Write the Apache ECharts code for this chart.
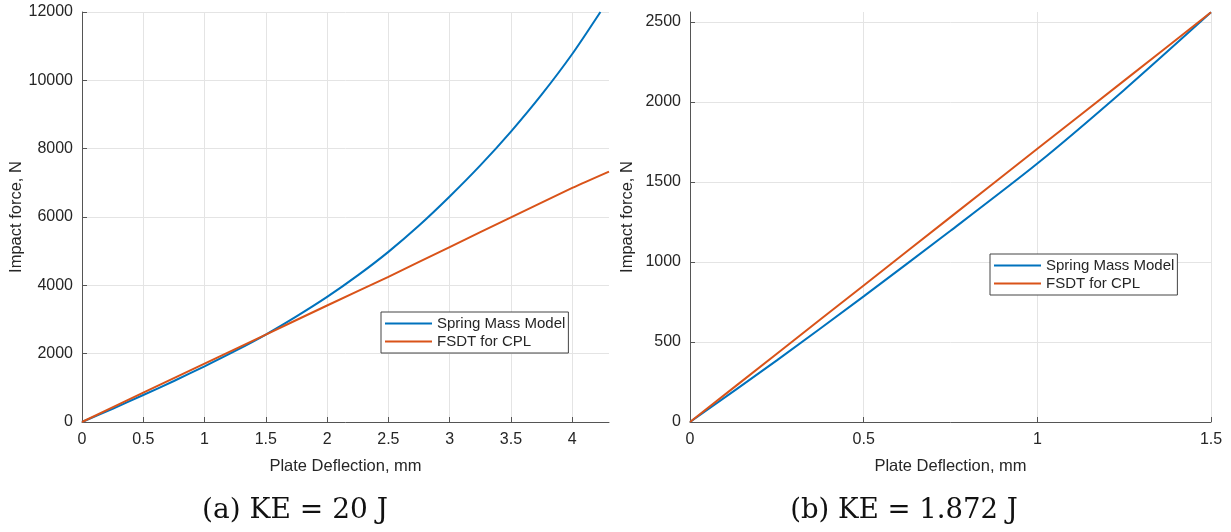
<!DOCTYPE html>
<html><head><meta charset="utf-8">
<script src="https://cdn.jsdelivr.net/npm/echarts@6/dist/echarts.min.js"></script>
<style>html,body{margin:0;padding:0;background:#fff}#c{width:1231px;height:532px}</style>
</head><body><div id="c"></div>
<script>
const seriesNames = ['Spring Mass Model', 'FSDT for CPL'];
const captions = ['(a) KE = 20 J', '(b) KE = 1.872 J'];
const xAxisName = 'Plate Deflection, mm';
const yAxisName = 'Impact force, N';

// Panel (a): KE = 20 J
const springX_a = [0, 0.25, 0.5, 0.75, 1, 1.25, 1.5, 1.75, 2, 2.25, 2.5, 2.75, 3, 3.25, 3.5, 3.75, 4, 4.23];
const springY_a = [0, 385, 790, 1200, 1630, 2080, 2560, 3090, 3660, 4290, 4980, 5750, 6600, 7510, 8500, 9580, 10770, 12000];
const fsdtX_a = [0, 0.5, 1, 1.5, 2, 2.5, 3, 3.5, 4, 4.3];
const fsdtY_a = [0, 860, 1710, 2560, 3410, 4250, 5120, 5990, 6850, 7330];
const xTicks_a = [0, 0.5, 1, 1.5, 2, 2.5, 3, 3.5, 4];
const yTicks_a = [0, 2000, 4000, 6000, 8000, 10000, 12000];

// Panel (b): KE = 1.872 J
const springX_b = [0, 0.25, 0.5, 0.75, 1, 1.25, 1.5];
const springY_b = [0, 385, 785, 1195, 1615, 2075, 2560];
const fsdtX_b = [0, 0.25, 0.5, 0.75, 1, 1.25, 1.5];
const fsdtY_b = [0, 427, 853, 1280, 1707, 2133, 2560];
const xTicks_b = [0, 0.5, 1, 1.5];
const yTicks_b = [0, 500, 1000, 1500, 2000, 2500];

const pairs = (xs, ys) => xs.map((x, i) => [x, ys[i]]);
const BLUE = '#0072BD', ORANGE = '#D95319';
const FONT = 'Liberation Sans, Arial, sans-serif';
const TXT = '#262626';

function xAxis(gi, max, interval, ticks, nameGap) {
  return {
    type: 'value', gridIndex: gi, min: 0, max: max, interval: interval,
    name: xAxisName, nameLocation: 'middle', nameGap: nameGap,
    nameTextStyle: { fontFamily: FONT, fontSize: 16.5, color: TXT },
    axisLine: { show: true, onZero: false, lineStyle: { color: '#555', width: 1 } },
    axisTick: { show: true, inside: true, length: 5, customValues: ticks, lineStyle: { color: '#555' } },
    axisLabel: { customValues: ticks, fontFamily: FONT, fontSize: 16, color: TXT, margin: 10, formatter: v => String(v) },
    splitLine: { show: true, lineStyle: { color: '#e4e4e4', width: 1 } }
  };
}
function yAxis(gi, max, interval, ticks, nameGap) {
  return {
    type: 'value', gridIndex: gi, min: 0, max: max, interval: interval,
    name: yAxisName, nameLocation: 'middle', nameGap: nameGap, nameRotate: 90,
    nameTextStyle: { fontFamily: FONT, fontSize: 16.5, color: TXT },
    axisLine: { show: true, onZero: false, lineStyle: { color: '#555', width: 1 } },
    axisTick: { show: true, inside: true, length: 5, customValues: ticks, lineStyle: { color: '#555' } },
    axisLabel: { customValues: ticks, fontFamily: FONT, fontSize: 16, color: TXT, margin: 9, formatter: v => String(v) },
    splitLine: { show: true, lineStyle: { color: '#e4e4e4', width: 1 } }
  };
}
function line(name, data, color, xi) {
  return {
    type: 'line', name: name, xAxisIndex: xi, yAxisIndex: xi, data: data,
    symbol: 'none', smooth: 0.25, animation: false,
    lineStyle: { color: color, width: 2 }, itemStyle: { color: color }
  };
}
function legend(left, top) {
  return {
    data: seriesNames, orient: 'vertical', left: left, top: top,
    icon: 'rect', itemWidth: 47, itemHeight: 2, itemGap: 3,
    padding: [4, 3, 4, 4], borderColor: '#444', borderWidth: 1, backgroundColor: '#fff',
    textStyle: { fontFamily: FONT, fontSize: 15, color: TXT }
  };
}

const chart = echarts.init(document.getElementById('c'), null, { renderer: 'canvas' });
chart.setOption({
  backgroundColor: '#fff',
  animation: false,
  grid: [
    { left: 82, top: 12, right: 622, bottom: 110, containLabel: false },
    { left: 690, top: 12, right: 20, bottom: 110, containLabel: false }
  ],
  xAxis: [xAxis(0, 4.3, 0.5, xTicks_a, 36), xAxis(1, 1.5, 0.5, xTicks_b, 36)],
  yAxis: [yAxis(0, 12000, 2000, yTicks_a, 56), yAxis(1, 2562, 500, yTicks_b, 54)],
  legend: [legend(381, 312), legend(990, 254)],
  series: [
    line(seriesNames[0], pairs(springX_a, springY_a), BLUE, 0),
    line(seriesNames[1], pairs(fsdtX_a, fsdtY_a), ORANGE, 0),
    line(seriesNames[0], pairs(springX_b, springY_b), BLUE, 1),
    line(seriesNames[1], pairs(fsdtX_b, fsdtY_b), ORANGE, 1)
  ],
  graphic: [
    { type: 'text', x: 295, y: 511, style: { text: captions[0], font: '28px "DejaVu Serif", serif', fill: '#111', align: 'center', verticalAlign: 'middle' } },
    { type: 'text', x: 904, y: 511, style: { text: captions[1], font: '27.5px "DejaVu Serif", serif', fill: '#111', align: 'center', verticalAlign: 'middle' } }
  ]
});
</script></body></html>
